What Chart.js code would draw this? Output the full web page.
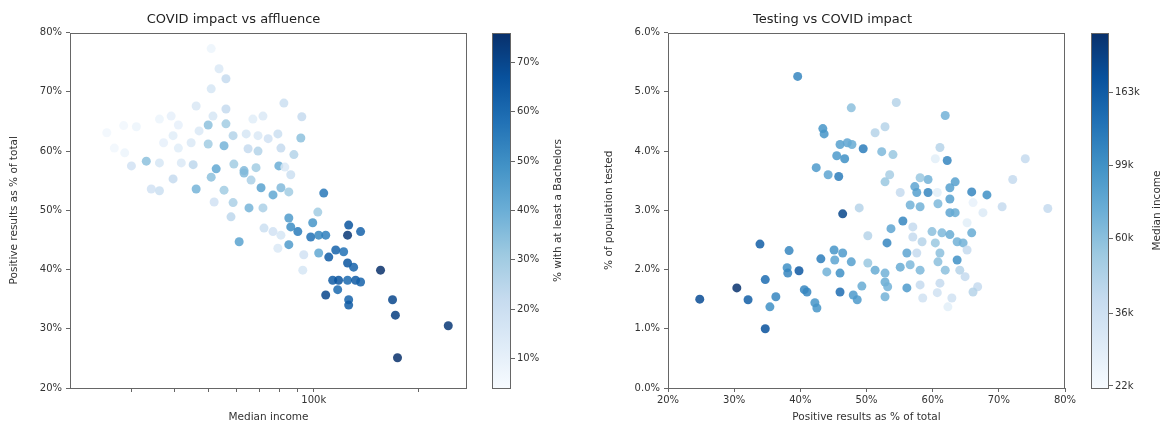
<!DOCTYPE html>
<html>
<head>
<meta charset="utf-8">
<script src="https://cdn.jsdelivr.net/npm/chart.js@4.4.1/dist/chart.umd.min.js"></script>
<style>
  body { margin: 0; background: #fff; width: 1164px; height: 428px; overflow: hidden; position: relative; }
  canvas { position: absolute; top: 0; }
</style>
</head>
<body>
<canvas id="affluenceChart" width="480" height="428" style="left:0"></canvas>
<canvas id="bachelorsBar" width="120" height="428" style="left:480px"></canvas>
<canvas id="testingChart" width="480" height="428" style="left:600px"></canvas>
<canvas id="incomeBar" width="84" height="428" style="left:1080px"></canvas>
<script>
// Left plot: median income (k) vs positive %, coloured by % with a bachelors
const incomeK = [50.8, 53.5, 56.0, 50.8, 82.1, 46.0, 56.0, 39.0, 51.4, 71.5,
  66.9, 36.1, 28.5, 31.0, 40.9, 49.8, 56.0, 46.9, 25.5, 39.5,
  58.7, 64.0, 69.2, 74.0, 78.9, 37.1, 49.8, 55.3, 40.9, 44.5,
  26.8, 28.7, 64.8, 69.2, 80.5, 30.0, 33.1, 36.1, 41.7, 45.1,
  52.5, 59.0, 63.1, 68.3, 79.4, 39.5, 34.2, 36.1, 46.0, 92.4,
  91.8, 87.7, 82.6, 50.8, 55.3, 63.1, 66.1, 70.6, 76.4, 80.5,
  84.8, 85.9, 51.8, 58.7, 65.2, 71.5, 106.8, 57.9, 84.8, 72.0,
  76.4, 80.5, 85.9, 90.0, 99.3, 102.7, 98.0, 103.3, 108.2, 125.9,
  125.0, 136.2, 61.1, 84.8, 78.9, 93.6, 103.3, 110.4, 115.6, 121.8,
  125.0, 130.1, 155.4, 93.0, 113.3, 117.8, 125.0, 131.8, 136.2, 117.1,
  108.2, 125.9, 125.9, 168.2, 171.4, 173.8, 243.0];
const positiveL = [77.3, 73.9, 72.2, 70.5, 68.1, 67.6, 67.1, 65.9, 65.9, 65.9,
  65.4, 65.4, 64.3, 64.1, 64.4, 64.4, 64.6, 63.4, 63.1, 62.6,
  62.6, 62.9, 62.6, 62.1, 62.9, 61.4, 61.2, 60.9, 60.5, 61.4,
  60.5, 59.7, 60.4, 60.0, 60.5, 57.5, 58.3, 58.0, 58.0, 57.7,
  57.0, 57.8, 56.7, 57.2, 57.5, 55.3, 53.6, 53.3, 53.6, 65.8,
  62.2, 59.4, 57.3, 55.6, 53.4, 56.3, 55.1, 53.8, 52.6, 53.8,
  53.1, 56.0, 51.4, 51.3, 50.4, 50.4, 52.9, 48.9, 48.7, 47.0,
  46.4, 45.8, 47.2, 46.4, 47.9, 49.7, 45.5, 45.8, 45.8, 47.5,
  45.8, 46.4, 44.7, 44.2, 43.6, 42.5, 42.8, 42.1, 43.3, 43.0,
  41.1, 40.4, 39.9, 39.9, 38.2, 38.2, 38.2, 38.2, 37.9, 36.6,
  35.7, 34.9, 34.0, 34.9, 32.3, 25.1, 30.5];
const bachelors = [8, 14, 22, 16, 20, 15, 22, 10, 16, 14,
  12, 8, 6, 8, 10, 34, 30, 14, 6, 12,
  26, 16, 14, 18, 20, 10, 30, 38, 12, 14,
  6, 8, 22, 26, 22, 18, 34, 16, 14, 24,
  42, 30, 36, 30, 40, 22, 18, 20, 38, 22,
  34, 26, 14, 34, 30, 36, 28, 44, 42, 36,
  30, 20, 18, 28, 38, 28, 56, 24, 46, 20,
  18, 16, 50, 55, 48, 30, 58, 52, 54, 66,
  74, 62, 44, 46, 14, 18, 42, 64, 62, 58,
  66, 62, 76, 16, 64, 66, 60, 64, 62, 60,
  70, 62, 64, 70, 72, 76, 74];
const bachelorsTicks = [10, 20, 30, 40, 50, 60, 70];

// Right plot: positive % vs % tested, coloured by median income (k)
const positiveR = [39.6, 47.7, 43.4, 43.6, 51.3, 46.0, 47.1, 47.8, 49.5, 45.5,
  46.7, 42.4, 44.2, 45.8, 46.4, 48.9, 50.2, 33.9, 38.3, 45.1,
  46.4, 47.7, 43.1, 45.2, 50.2, 38.0, 38.1, 39.8, 44.0, 46.0,
  34.7, 49.3, 48.0, 48.6, 30.4, 24.8, 32.1, 36.3, 35.4, 40.6,
  41.0, 46.0, 42.2, 42.5, 34.7, 54.5, 61.9, 52.8, 52.3, 54.0,
  61.1, 62.2, 60.4, 74.0, 53.5, 52.8, 59.3, 58.1, 63.4, 57.3,
  57.6, 55.1, 59.3, 60.7, 62.6, 65.9, 68.2, 72.1, 62.6, 60.8,
  56.6, 58.1, 66.1, 70.5, 77.4, 62.6, 63.4, 67.6, 55.5, 53.7,
  57.0, 59.9, 61.4, 62.6, 63.7, 64.6, 65.9, 65.2, 53.1, 57.0,
  58.4, 60.4, 56.1, 57.6, 61.1, 63.7, 65.2, 51.3, 55.1, 56.6,
  58.1, 60.8, 61.9, 64.1, 64.9, 52.8, 52.8, 53.2, 56.1, 58.1,
  61.1, 66.8, 66.1, 52.8, 58.5, 60.7, 62.9, 62.3];
const tested = [5.26, 4.73, 4.38, 4.29, 4.31, 4.11, 4.14, 4.11, 4.04, 3.92,
  3.87, 3.72, 3.60, 3.57, 2.94, 3.04, 2.57, 2.43, 2.32, 2.33,
  2.28, 2.13, 2.18, 2.16, 2.11, 2.03, 1.94, 1.98, 1.96, 1.94,
  1.83, 1.72, 1.57, 1.49, 1.69, 1.50, 1.49, 1.54, 1.37, 1.66,
  1.62, 1.62, 1.44, 1.35, 1.00, 4.82, 4.60, 4.41, 3.99, 3.94,
  4.06, 3.84, 3.87, 3.87, 3.60, 3.48, 3.52, 3.55, 3.48, 3.40,
  3.30, 3.30, 3.30, 3.30, 3.38, 3.31, 3.26, 3.52, 3.19, 3.11,
  3.09, 3.06, 3.13, 3.06, 3.03, 2.96, 2.96, 2.96, 2.82, 2.69,
  2.72, 2.64, 2.62, 2.59, 2.47, 2.45, 2.62, 2.79, 2.45, 2.55,
  2.47, 2.45, 2.28, 2.28, 2.28, 2.16, 2.33, 1.99, 2.04, 2.08,
  1.99, 2.13, 1.99, 1.99, 1.88, 1.94, 1.79, 1.71, 1.69, 1.74,
  1.77, 1.71, 1.62, 1.54, 1.52, 1.61, 1.52, 1.37];
const incomeR = [110, 60, 95, 95, 45, 85, 80, 75, 120, 90,
  100, 90, 80, 120, 200, 45, 45, 160, 110, 95,
  90, 85, 120, 80, 55, 100, 110, 170, 70, 100,
  140, 75, 90, 90, 240, 190, 160, 110, 100, 110,
  110, 140, 95, 95, 180, 45, 70, 45, 65, 55,
  45, 110, 28, 40, 50, 55, 70, 55, 85, 80,
  85, 40, 110, 28, 85, 110, 100, 40, 85, 65,
  70, 70, 26, 40, 40, 80, 75, 30, 110, 80,
  40, 60, 65, 75, 70, 70, 75, 28, 110, 40,
  45, 55, 80, 40, 60, 100, 40, 75, 75, 65,
  65, 60, 60, 45, 40, 70, 75, 70, 90, 40,
  40, 40, 45, 70, 35, 35, 35, 28];
const incomeTicks = [22000, 36000, 60000, 99000, 163000];
const incomeTickLabels = ['22k', '36k', '60k', '99k', '163k'];

// matplotlib "Blues"
const BLUES = ['#f7fbff', '#deebf7', '#c6dbef', '#9ecae1', '#6baed6', '#4292c6', '#2171b5', '#08519c', '#08306b'];
function blues(t, alpha) {
    t = Math.max(0, Math.min(1, t));
    const p = t * 8, i = Math.min(7, Math.floor(p)), f = p - i;
    const a = BLUES[i], b = BLUES[i + 1];
    const ch = k => {
        const x = parseInt(a.substr(1 + k * 2, 2), 16), y = parseInt(b.substr(1 + k * 2, 2), 16);
        return Math.round(x + (y - x) * f);
    };
    return `rgba(${ch(0)},${ch(1)},${ch(2)},${alpha})`;
}

const BACH_MIN = 4, BACH_MAX = 76;
const INC_MIN = 21700, INC_MAX = 244000;
const FONT = '"DejaVu Sans", sans-serif';
const TEXT = '#333';
const SPINE = '#666';

// box around the plot area, like matplotlib spines
const frame = {
    id: 'frame',
    afterDraw(chart) {
        const { ctx, chartArea: a } = chart;
        ctx.save();
        ctx.strokeStyle = SPINE;
        ctx.lineWidth = 1;
        ctx.strokeRect(Math.round(a.left) + 0.5, Math.round(a.top) + 0.5,
            Math.round(a.right - a.left) - 1, Math.round(a.bottom - a.top));
        ctx.restore();
    }
};

// gradient for the colour bars
const colorbarFill = {
    id: 'colorbarFill',
    beforeDatasetsDraw(chart) {
        const { ctx, chartArea: a } = chart;
        const g = ctx.createLinearGradient(0, a.bottom, 0, a.top);
        BLUES.forEach((c, i) => g.addColorStop(i / 8, c));
        ctx.save();
        ctx.fillStyle = g;
        ctx.fillRect(a.left, a.top, a.right - a.left, a.bottom - a.top);
        ctx.restore();
    }
};

// colour bar label, reading bottom to top
const sideLabel = {
    id: 'sideLabel',
    afterDraw(chart, args, opts) {
        const { ctx, chartArea: a } = chart;
        ctx.save();
        ctx.translate(opts.x, (a.top + a.bottom) / 2);
        ctx.rotate(-Math.PI / 2);
        ctx.font = `10.5px ${FONT}`;
        ctx.fillStyle = TEXT;
        ctx.textAlign = 'center';
        ctx.textBaseline = 'middle';
        ctx.fillText(opts.text, 0, 0);
        ctx.restore();
    }
};

const tickFont = { family: FONT, size: 10 };
const labelFont = { family: FONT, size: 10.5 };
const axisGrid = { drawOnChartArea: false, drawTicks: true, tickLength: 4, color: SPINE };

// COVID impact vs affluence
new Chart(document.getElementById('affluenceChart'), {
    type: 'scatter',
    data: {
        datasets: [{
            data: incomeK.map((v, i) => ({ x: v * 1000, y: positiveL[i] })),
            backgroundColor: bachelors.map(b => blues((b - BACH_MIN) / (BACH_MAX - BACH_MIN), 0.85)),
            borderWidth: 0,
            pointRadius: 4.5,
            pointHoverRadius: 4.5,
        }]
    },
    options: {
        responsive: false,
        animation: false,
        layout: { padding: { right: 13 } },
        plugins: {
            legend: { display: false },
            tooltip: { enabled: false },
            title: {
                display: true, text: 'COVID impact vs affluence', color: '#222',
                font: { family: FONT, size: 13, weight: 'normal' },
                padding: { top: 12, bottom: 5 }
            }
        },
        scales: {
            x: {
                type: 'logarithmic', min: 20000, max: 275000,
                afterBuildTicks: s => { s.ticks = [30000, 40000, 50000, 60000, 70000, 80000, 90000, 100000, 200000].map(v => ({ value: v })); },
                afterFit: s => { s.height = 40; },
                ticks: { callback: v => v === 100000 ? '100k' : '', autoSkip: false, maxRotation: 0, color: TEXT, font: tickFont, padding: 2 },
                grid: axisGrid,
                border: { display: false },
                title: { display: true, text: 'Median income', color: TEXT, font: labelFont, padding: { top: 0, bottom: 4 } }
            },
            y: {
                min: 20, max: 80,
                afterFit: s => { s.width = 70; },
                ticks: { stepSize: 10, callback: v => v + '%', color: TEXT, font: tickFont, padding: 4 },
                grid: axisGrid,
                border: { display: false },
                title: { display: true, text: 'Positive results as % of total', color: TEXT, font: labelFont, padding: { top: 8, bottom: 0 } }
            }
        }
    },
    plugins: [frame]
});

new Chart(document.getElementById('bachelorsBar'), {
    type: 'scatter',
    data: { datasets: [] },
    options: {
        responsive: false,
        animation: false,
        layout: { padding: { top: 33, bottom: 40, left: 12 } },
        plugins: {
            legend: { display: false },
            tooltip: { enabled: false },
            sideLabel: { text: '% with at least a Bachelors', x: 78 }
        },
        scales: {
            x: { display: false },
            y: {
                position: 'right', min: BACH_MIN, max: BACH_MAX,
                afterBuildTicks: s => { s.ticks = bachelorsTicks.map(v => ({ value: v })); },
                afterFit: s => { s.width = 89; },
                ticks: { callback: v => v + '%', color: TEXT, font: tickFont, padding: 2 },
                grid: axisGrid,
                border: { display: false }
            }
        }
    },
    plugins: [colorbarFill, frame, sideLabel]
});

// Testing vs COVID impact
new Chart(document.getElementById('testingChart'), {
    type: 'scatter',
    data: {
        datasets: [{
            data: positiveR.map((v, i) => ({ x: v, y: tested[i] })),
            backgroundColor: incomeR.map(k => blues(Math.log(k * 1000 / INC_MIN) / Math.log(INC_MAX / INC_MIN), 0.85)),
            borderWidth: 0,
            pointRadius: 4.5,
            pointHoverRadius: 4.5,
        }]
    },
    options: {
        responsive: false,
        animation: false,
        layout: { padding: { right: 15 } },
        plugins: {
            legend: { display: false },
            tooltip: { enabled: false },
            title: {
                display: true, text: 'Testing vs COVID impact', color: '#222',
                font: { family: FONT, size: 13, weight: 'normal' },
                padding: { top: 12, bottom: 5 }
            }
        },
        scales: {
            x: {
                min: 20, max: 80,
                afterFit: s => { s.height = 40; },
                ticks: { stepSize: 10, callback: v => v + '%', maxRotation: 0, color: TEXT, font: tickFont, padding: 2 },
                grid: axisGrid,
                border: { display: false },
                title: { display: true, text: 'Positive results as % of total', color: TEXT, font: labelFont, padding: { top: 0, bottom: 4 } }
            },
            y: {
                min: 0, max: 6,
                afterFit: s => { s.width = 68; },
                ticks: { stepSize: 1, callback: v => v.toFixed(1) + '%', color: TEXT, font: tickFont, padding: 4 },
                grid: axisGrid,
                border: { display: false },
                title: { display: true, text: '% of population tested', color: TEXT, font: labelFont, padding: { top: 3, bottom: 0 } }
            }
        }
    },
    plugins: [frame]
});

new Chart(document.getElementById('incomeBar'), {
    type: 'scatter',
    data: { datasets: [] },
    options: {
        responsive: false,
        animation: false,
        layout: { padding: { top: 33, bottom: 40, left: 11 } },
        plugins: {
            legend: { display: false },
            tooltip: { enabled: false },
            sideLabel: { text: 'Median income', x: 77 }
        },
        scales: {
            x: { display: false },
            y: {
                type: 'logarithmic', position: 'right', min: INC_MIN, max: INC_MAX,
                afterBuildTicks: s => { s.ticks = incomeTicks.map(v => ({ value: v })); },
                afterFit: s => { s.width = 55; },
                ticks: { callback: (v, i) => incomeTickLabels[i], color: TEXT, font: tickFont, padding: 2 },
                grid: axisGrid,
                border: { display: false }
            }
        }
    },
    plugins: [colorbarFill, frame, sideLabel]
});
</script>
</body>
</html>
